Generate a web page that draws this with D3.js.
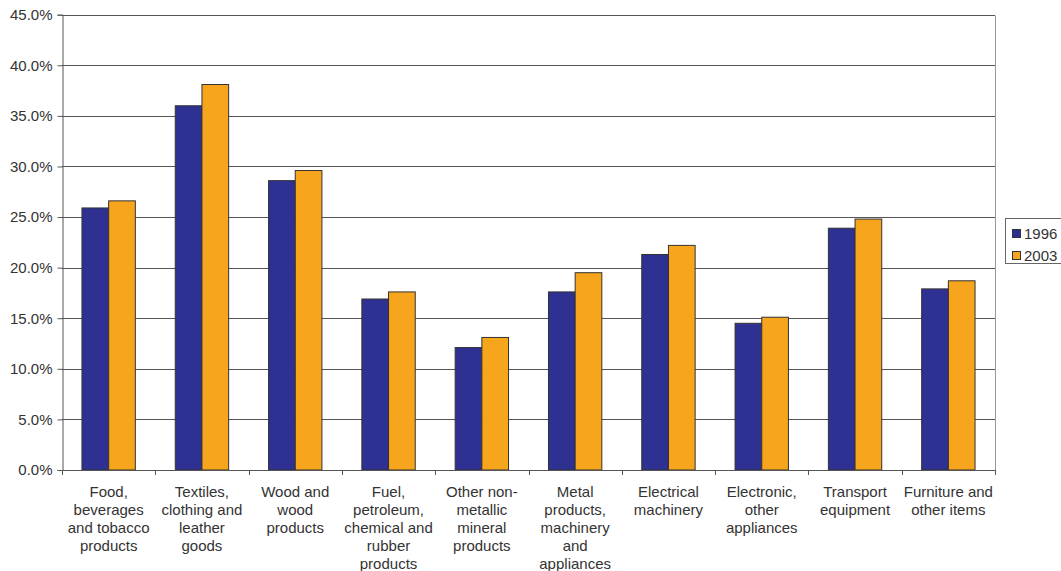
<!DOCTYPE html>
<html>
<head>
<meta charset="utf-8">
<script src="https://cdn.jsdelivr.net/npm/d3@7"></script>
<style>
  html, body { margin: 0; padding: 0; background: #fff; }
  svg { display: block; font-family: "Liberation Sans", Arial, sans-serif; }
</style>
</head>
<body>
<svg id="chart" width="1061" height="571"></svg>
<script>
// Sector labels (line breaks as printed under each group)
const categories = [
  ["Food,", "beverages", "and tobacco", "products"],
  ["Textiles,", "clothing and", "leather", "goods"],
  ["Wood and", "wood", "products"],
  ["Fuel,", "petroleum,", "chemical and", "rubber", "products"],
  ["Other non-", "metallic", "mineral", "products"],
  ["Metal", "products,", "machinery", "and", "appliances"],
  ["Electrical", "machinery"],
  ["Electronic,", "other", "appliances"],
  ["Transport", "equipment"],
  ["Furniture and", "other items"]
];
const seriesNames = ["1996", "2003"];
const values1996 = [25.9, 36.0, 28.6, 16.9, 12.1, 17.6, 21.3, 14.5, 23.9, 17.9];
const values2003 = [26.6, 38.1, 29.6, 17.6, 13.1, 19.5, 22.2, 15.1, 24.8, 18.7];
const yTicks = [0, 5, 10, 15, 20, 25, 30, 35, 40, 45];
const colors = ["#2e3192", "#f7a51c"];

const svg = d3.select("#chart");
const margin = { left: 62, right: 995, top: 14.7, bottom: 470 };

const x = d3.scaleBand()
  .domain(d3.range(categories.length))
  .range([margin.left, margin.right])
  .paddingInner(0).paddingOuter(0);

const y = d3.scaleLinear().domain([0, 45]).range([margin.bottom, margin.top]);

const bw = x.bandwidth();
const barW = bw * 0.286;
const barOffset = (bw - 2 * barW) / 2;

// Gridlines
svg.append("g").selectAll("line").data(yTicks.filter(d => d > 0)).join("line")
  .attr("x1", margin.left).attr("x2", margin.right)
  .attr("y1", d => Math.round(y(d)) + 0.5).attr("y2", d => Math.round(y(d)) + 0.5)
  .attr("stroke", "#555").attr("stroke-width", 1);

// Right frame edge
svg.append("line")
  .attr("x1", margin.right + 0.5).attr("x2", margin.right + 0.5)
  .attr("y1", Math.round(y(45)) + 0.5).attr("y2", margin.bottom)
  .attr("stroke", "#999");

// Bars
const series = [values1996, values2003];
series.forEach((vals, si) => {
  svg.append("g").selectAll("rect").data(vals).join("rect")
    .attr("x", (d, i) => x(i) + barOffset + si * barW)
    .attr("width", barW)
    .attr("y", d => y(d))
    .attr("height", d => y(0) - y(d))
    .attr("fill", colors[si])
    .attr("stroke", "#333")
    .attr("stroke-width", 1);
});

// Y axis
const yAxis = d3.axisLeft(y).tickValues(yTicks).tickSize(5).tickPadding(5)
  .tickFormat(d => d.toFixed(1) + "%");
const yg = svg.append("g").attr("transform", `translate(${margin.left + 0.5},0)`).call(yAxis);
yg.select(".domain").attr("stroke", "#555");
yg.selectAll(".tick line").attr("stroke", "#555");
yg.selectAll("text").attr("font-size", 15).attr("fill", "#333")
  .attr("font-family", "Liberation Sans, Arial, sans-serif");

// X axis with ticks at group boundaries
const xg = svg.append("g");
xg.append("line")
  .attr("x1", margin.left).attr("x2", margin.right)
  .attr("y1", margin.bottom + 0.5).attr("y2", margin.bottom + 0.5)
  .attr("stroke", "#555");
xg.selectAll("line.tk").data(d3.range(categories.length + 1)).join("line")
  .attr("class", "tk")
  .attr("x1", i => Math.round(margin.left + i * bw) + 0.5)
  .attr("x2", i => Math.round(margin.left + i * bw) + 0.5)
  .attr("y1", margin.bottom).attr("y2", margin.bottom + 5)
  .attr("stroke", "#555");

// Category labels
const lab = svg.append("g").selectAll("text").data(categories).join("text")
  .attr("text-anchor", "middle")
  .attr("font-size", 15)
  .attr("fill", "#333");
lab.each(function(lines, i) {
  d3.select(this).selectAll("tspan").data(lines).join("tspan")
    .attr("x", x(i) + bw / 2)
    .attr("y", (d, k) => 497 + k * 17.9)
    .text(d => d);
});

// Legend
const lg = svg.append("g");
lg.append("rect")
  .attr("x", 1005.5).attr("y", 218.5).attr("width", 60).attr("height", 45)
  .attr("fill", "#fff").attr("stroke", "#666");
seriesNames.forEach((name, i) => {
  lg.append("rect")
    .attr("x", 1012.5).attr("y", 229.5 + i * 22).attr("width", 8).attr("height", 8)
    .attr("fill", colors[i]).attr("stroke", "#333");
  lg.append("text")
    .attr("x", 1024).attr("y", 239 + i * 22)
    .attr("font-size", 15).attr("fill", "#333")
    .text(name);
});
</script>
</body>
</html>
